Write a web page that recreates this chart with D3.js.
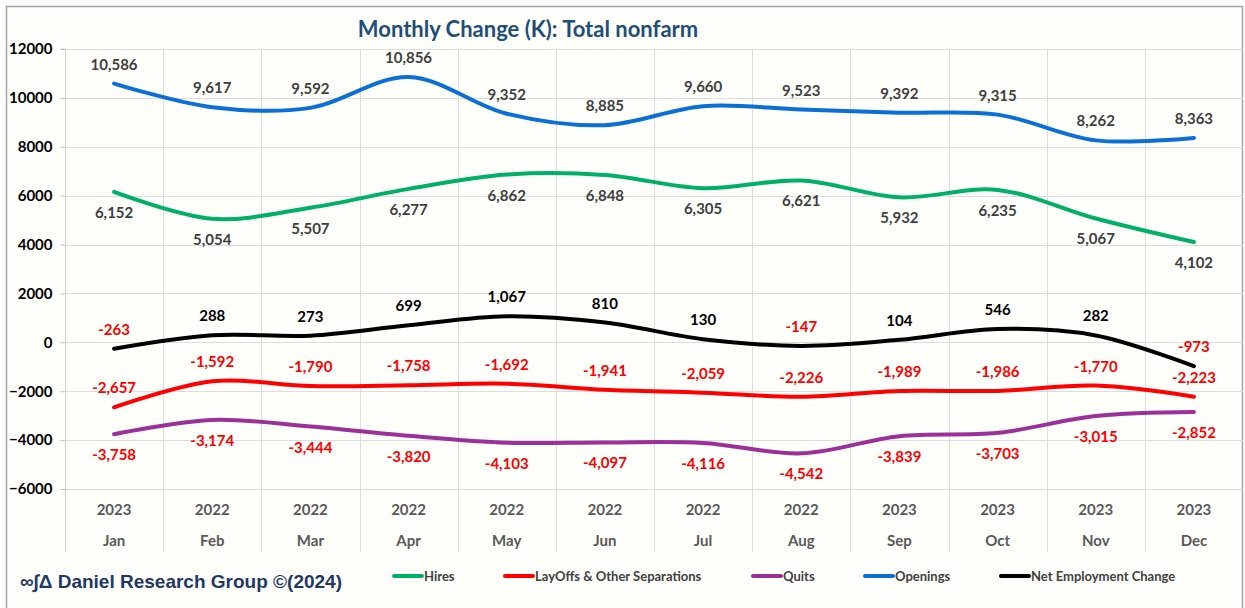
<!DOCTYPE html>
<html>
<head>
<meta charset="utf-8">
<script src="https://cdn.jsdelivr.net/npm/d3@7"></script>
<style>
  body { margin: 0; background: #fff; }
  #chart svg { display: block; }
</style>
</head>
<body>
<div id="chart"></div>
<script>
const months = ['Jan', 'Feb', 'Mar', 'Apr', 'May', 'Jun', 'Jul', 'Aug', 'Sep', 'Oct', 'Nov', 'Dec']
const years = ['2023', '2022', '2022', '2022', '2022', '2022', '2022', '2022', '2023', '2023', '2023', '2023']

const openings = [10586, 9617, 9592, 10856, 9352, 8885, 9660, 9523, 9392, 9315, 8262, 8363]
const hires = [6152, 5054, 5507, 6277, 6862, 6848, 6305, 6621, 5932, 6235, 5067, 4102]
const netChange = [-263, 288, 273, 699, 1067, 810, 130, -147, 104, 546, 282, -973]
const layoffs = [-2657, -1592, -1790, -1758, -1692, -1941, -2059, -2226, -1989, -1986, -1770, -2223]
const quits = [-3758, -3174, -3444, -3820, -4103, -4097, -4116, -4542, -3839, -3703, -3015, -2852]

const yTicks = [-6000, -4000, -2000, 0, 2000, 4000, 6000, 8000, 10000, 12000]

const series = [
  {name: 'Hires', values: hires, color: '#00B066', label: 'below', textColor: '#404040'},
  {name: 'LayOffs & Other Separations', values: layoffs, color: '#FF0000', label: 'above', textColor: '#404040'},
  {name: 'Quits', values: quits, color: '#9B309B', label: 'below', textColor: '#404040'},
  {name: 'Openings', values: openings, color: '#0A6FD6', label: 'above', textColor: '#404040'},
  {name: 'Net Employment Change', values: netChange, color: '#000000', label: 'above', textColor: '#000000'},
]
// draw order (legend order differs)
const drawOrder = ['Openings', 'Hires', 'Net Employment Change', 'LayOffs & Other Separations', 'Quits']
const legendX = [394, 505, 753, 865, 1001]

const W = 1245
const H = 608
const plot = {left: 65, right: 1243, top: 49, bottom: 489}

const svg = d3.select('#chart')
  .append('svg')
  .attr('width', W)
  .attr('height', H)

// frame
svg.append('rect')
  .attr('x', 6.5).attr('y', 6.5)
  .attr('width', 1236).attr('height', 610)
  .attr('fill', '#FEFEFB')
  .attr('stroke', '#A6A6A6')
  .attr('stroke-width', 1.5)

const x = d3.scaleBand()
  .domain(months)
  .range([plot.left, plot.right])

const y = d3.scaleLinear()
  .domain([-6000, 12000])
  .range([plot.bottom, plot.top])

const xc = m => x(m) + x.bandwidth() / 2

// horizontal gridlines
svg.append('g')
  .selectAll('line')
  .data(yTicks)
  .enter()
  .append('line')
  .attr('x1', plot.left)
  .attr('x2', plot.right)
  .attr('y1', d => Math.round(y(d)) + 0.5)
  .attr('y2', d => Math.round(y(d)) + 0.5)
  .attr('stroke', '#DDDDDD')
  .attr('stroke-width', 1)

// vertical gridlines (band edges, down through labels)
svg.append('g')
  .selectAll('line')
  .data(months.slice(1))
  .enter()
  .append('line')
  .attr('x1', d => Math.round(x(d)) + 0.5)
  .attr('x2', d => Math.round(x(d)) + 0.5)
  .attr('y1', plot.top)
  .attr('y2', 552)
  .attr('stroke', '#DDDDDD')
  .attr('stroke-width', 1)

// y axis
const yAxis = d3.axisLeft(y)
  .tickValues(yTicks)
  .tickSize(5)
  .tickPadding(8)
  .tickFormat(d3.format('d'))

const yg = svg.append('g')
  .attr('transform', `translate(${plot.left + 0.5}, 0)`)
  .call(yAxis)
yg.select('.domain').attr('stroke', '#D0D0D0').attr('d', `M-5,${plot.top}H0V552`)
yg.selectAll('.tick line').attr('stroke', '#BFBFBF')
yg.selectAll('.tick text')
  .attr('fill', '#000')
  .attr('font-family', 'Lato, "Open Sans", sans-serif')
  .attr('font-weight', 'bold')
  .attr('font-size', 15)

// category labels
const catG = svg.append('g')
  .attr('font-family', 'Lato, "Open Sans", sans-serif')
  .attr('font-weight', 'bold')
  .attr('font-size', 15)
  .attr('fill', '#595959')
  .attr('text-anchor', 'middle')

catG.selectAll('text.yr')
  .data(months)
  .enter()
  .append('text')
  .attr('class', 'yr')
  .attr('x', d => xc(d))
  .attr('y', 515)
  .text((d, i) => years[i])

catG.selectAll('text.mo')
  .data(months)
  .enter()
  .append('text')
  .attr('class', 'mo')
  .attr('x', d => xc(d))
  .attr('y', 546)
  .text(d => d)

// lines
const line = d3.line()
  .x((d, i) => xc(months[i]))
  .y(d => y(d))
  .curve(d3.curveCatmullRom.alpha(0.5))

drawOrder.forEach(name => {
  const s = series.find(v => v.name === name)
  svg.append('path')
    .datum(s.values)
    .attr('d', line)
    .attr('fill', 'none')
    .attr('stroke', s.color)
    .attr('stroke-width', 4)
    .attr('stroke-linecap', 'round')
    .attr('stroke-linejoin', 'round')
})

// data labels
const fmt = d3.format(',')
series.forEach(s => {
  svg.append('g')
    .attr('font-family', 'Lato, "Open Sans", sans-serif')
    .attr('font-weight', 'bold')
    .attr('font-size', 15)
    .attr('text-anchor', 'middle')
    .selectAll('text')
    .data(s.values)
    .enter()
    .append('text')
    .attr('x', (d, i) => xc(months[i]))
    .attr('y', d => (s.label === 'above' ? y(d) - 14 : y(d) + 26))
    .attr('fill', d => (d < 0 ? '#FF0000' : s.textColor))
    .text(d => fmt(d).replace('−', '-'))
})

// title
svg.append('text')
  .attr('x', 528)
  .attr('y', 37)
  .attr('text-anchor', 'middle')
  .attr('font-family', 'Lato, "Open Sans", sans-serif')
  .attr('font-weight', 'bold')
  .attr('font-size', 22)
  .attr('fill', '#1F4E79')
  .text('Monthly Change (K): Total nonfarm')

// legend
const lg = svg.append('g')
  .selectAll('g')
  .data(series)
  .enter()
  .append('g')
  .attr('transform', (d, i) => `translate(${legendX[i]}, 576)`)

lg.append('line')
  .attr('x1', 0).attr('x2', 28)
  .attr('y1', 0).attr('y2', 0)
  .attr('stroke', d => d.color)
  .attr('stroke-width', 4)
  .attr('stroke-linecap', 'round')

lg.append('text')
  .attr('x', 30)
  .attr('y', 4.5)
  .attr('font-family', 'Lato, "Open Sans", sans-serif')
  .attr('font-weight', 'bold')
  .attr('font-size', 13)
  .attr('fill', '#404040')
  .text(d => d.name)

// footer
svg.append('text')
  .attr('x', 20)
  .attr('y', 588)
  .attr('font-family', '"Liberation Sans", Arial, sans-serif')
  .attr('font-weight', 'bold')
  .attr('font-size', 19)
  .attr('fill', '#1F3864')
  .text('∞∫Δ Daniel Research Group ©(2024)')
</script>
</body>
</html>
